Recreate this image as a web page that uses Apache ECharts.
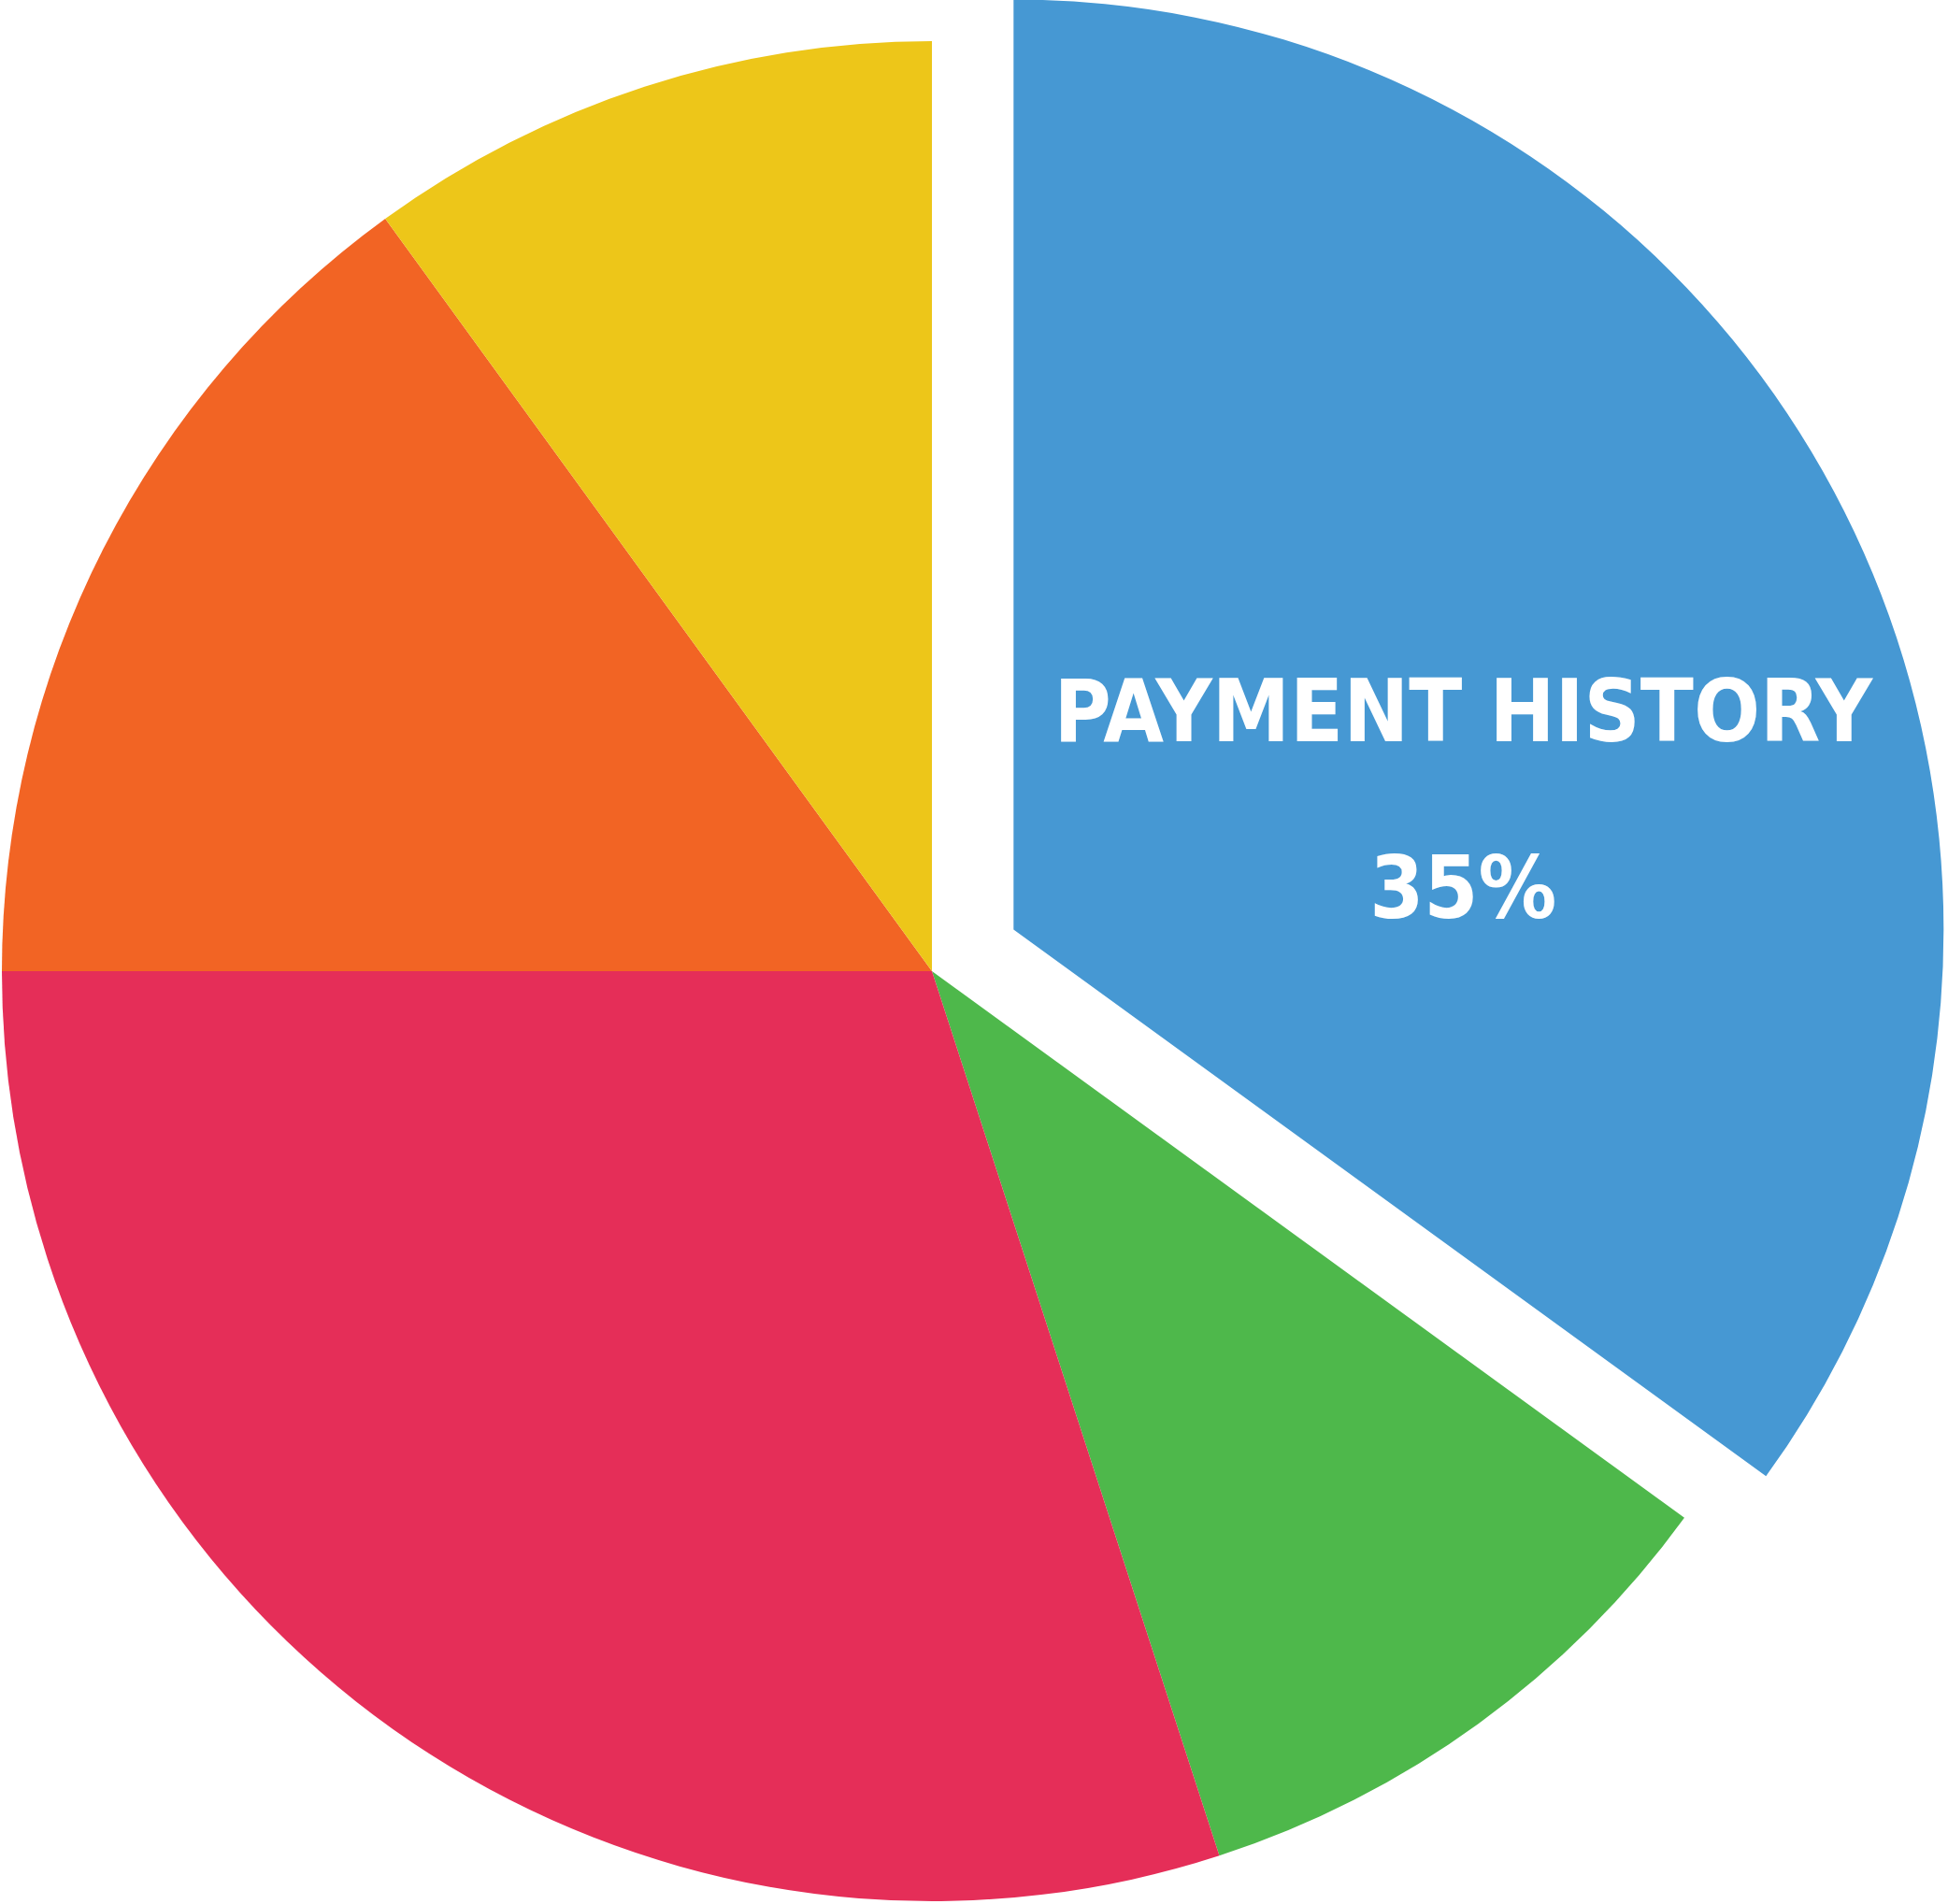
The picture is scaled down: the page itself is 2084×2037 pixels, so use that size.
<!DOCTYPE html>
<html>
<head>
<meta charset="utf-8">
<title>Credit score factors</title>
<script src="https://cdn.jsdelivr.net/npm/echarts@6/dist/echarts.min.js"></script>
<style>
  html, body { margin: 0; padding: 0; background: #fff; }
  #chart { width: 2084px; height: 2037px; }
</style>
</head>
<body>
<div id="chart"></div>
<script>
// slices, clockwise from 12 o'clock
const factors = ['PAYMENT HISTORY', 'NEW CREDIT', 'AMOUNTS OWED', 'LENGTH OF CREDIT HISTORY', 'CREDIT MIX'];
const shares = [35, 10, 30, 15, 10];
const colors = ['#4698d3', '#4eb84b', '#e52e58', '#f26424', '#edc619'];
const highlighted = 'PAYMENT HISTORY';

const chart = echarts.init(document.getElementById('chart'));

chart.setOption({
    animation: false,
    series: [{
        type: 'pie',
        center: [997, 1039],
        radius: 995,
        startAngle: 90,
        clockwise: true,
        selectedMode: 'single',
        selectedOffset: 98,
        avoidLabelOverlap: false,
        emphasis: { disabled: true },
        labelLine: { show: false },
        // push the label a bit lower/right inside the big slice
        labelLayout: { dx: 35, dy: 96 },
        data: factors.map(function (name, i) {
            return {
                name: name,
                value: shares[i],
                selected: name === highlighted,
                itemStyle: { color: colors[i] },
                label: {
                    show: name === highlighted,
                    position: 'inside',
                    formatter: '{b}\n{c}%',
                    color: '#fff',
                    fontFamily: '"Noto Sans ExtraCondensed", "Noto Sans Condensed", "DejaVu Sans Condensed", "DejaVu Sans", sans-serif',
                    fontWeight: 'bold',
                    fontSize: 93,
                    lineHeight: 189,
                    align: 'center'
                }
            };
        })
    }]
});
</script>
</body>
</html>
